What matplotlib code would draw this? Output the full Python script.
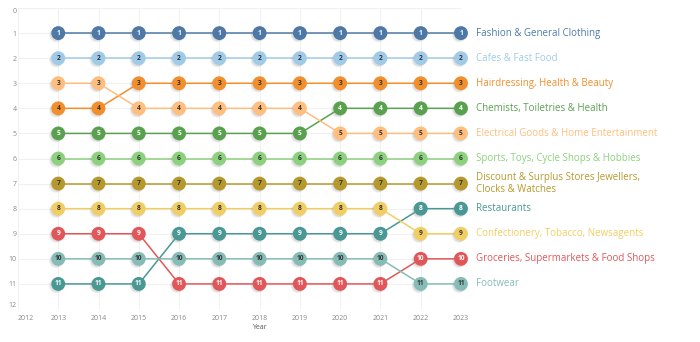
import matplotlib
matplotlib.use("Agg")
import matplotlib.pyplot as plt
import matplotlib.patheffects as pe

plt.rcParams['font.family'] = ['Open Sans', 'DejaVu Sans']

years = [2013, 2014, 2015, 2016, 2017, 2018, 2019, 2020, 2021, 2022, 2023]

# rank of each retail category per year (1 = top)
fashion = [1, 1, 1, 1, 1, 1, 1, 1, 1, 1, 1]
cafes = [2, 2, 2, 2, 2, 2, 2, 2, 2, 2, 2]
hairdressing = [4, 4, 3, 3, 3, 3, 3, 3, 3, 3, 3]
chemists = [5, 5, 5, 5, 5, 5, 5, 4, 4, 4, 4]
electrical = [3, 3, 4, 4, 4, 4, 4, 5, 5, 5, 5]
sports = [6, 6, 6, 6, 6, 6, 6, 6, 6, 6, 6]
discount = [7, 7, 7, 7, 7, 7, 7, 7, 7, 7, 7]
restaurants = [11, 11, 11, 9, 9, 9, 9, 9, 9, 8, 8]
confectionery = [8, 8, 8, 8, 8, 8, 8, 8, 8, 9, 9]
groceries = [9, 9, 9, 11, 11, 11, 11, 11, 11, 10, 10]
footwear = [10, 10, 10, 10, 10, 10, 10, 10, 10, 11, 11]

series = [
    ("Fashion & General Clothing", fashion, "#4e79a7", "white"),
    ("Cafes & Fast Food", cafes, "#a0cbe8", "#333333"),
    ("Hairdressing, Health & Beauty", hairdressing, "#f28e2b", "#333333"),
    ("Chemists, Toiletries & Health", chemists, "#59a14f", "white"),
    ("Electrical Goods & Home Entertainment", electrical, "#ffbe7d", "#333333"),
    ("Sports, Toys, Cycle Shops & Hobbies", sports, "#8cd17d", "#333333"),
    ("Discount & Surplus Stores Jewellers,\nClocks & Watches", discount, "#b6992d", "#333333"),
    ("Restaurants", restaurants, "#499894", "white"),
    ("Confectionery, Tobacco, Newsagents", confectionery, "#f1ce63", "#333333"),
    ("Groceries, Supermarkets & Food Shops", groceries, "#e15759", "white"),
    ("Footwear", footwear, "#86bcb6", "#333333"),
]

fig = plt.figure(figsize=(7, 3.42), dpi=100)
ax = fig.add_axes([18 / 700, 1 - 309 / 342, 443 / 700, 301 / 342])

ax.set_xlim(2012, 2023)
ax.set_ylim(12, 0)
ax.set_xticks(range(2012, 2024))
ax.set_yticks(range(0, 13))
ax.set_xticklabels([str(y) for y in range(2012, 2024)], fontsize=5, color="#888888")
ax.set_yticklabels([str(r) for r in range(0, 13)], fontsize=5, color="#888888")
ax.get_yticklabels()[0].set_va("top")
ax.get_yticklabels()[-1].set_va("bottom")
ax.get_xticklabels()[0].set_ha("left")
ax.tick_params(axis="x", length=0, pad=4)
ax.tick_params(axis="y", length=0, pad=1)
for s in ax.spines.values():
    s.set_visible(False)
ax.grid(True, color="#f1f1f1", lw=0.8, zorder=0)
ax.set_axisbelow(True)

ax.text(2018, 12.75, "Year", fontsize=5, color="#555555", ha="center", va="center")

shadow = [pe.SimplePatchShadow(offset=(-1.5, -1.5), shadow_rgbFace="#999999", alpha=0.18),
          pe.SimplePatchShadow(offset=(-0.8, -0.8), shadow_rgbFace="#999999", alpha=0.2),
          pe.Normal()]

for name, ranks, color, txt in series:
    ax.plot(years, ranks, color=color, lw=1.1, zorder=2, clip_on=False)
    ax.plot(years, ranks, ls="none", marker="o", ms=10, mec="none", mfc=color,
            zorder=3, clip_on=False, path_effects=shadow)
    for x, r in zip(years, ranks):
        ax.text(x, r, str(r), fontsize=4.8, fontweight="bold", color=txt,
                ha="center", va="center", zorder=4)
    ax.text(2023.37, ranks[-1], name, fontsize=7, color=color, ha="left",
            va="center", linespacing=1.1, clip_on=False)

fig.savefig("out.png", dpi=100, facecolor="white")
